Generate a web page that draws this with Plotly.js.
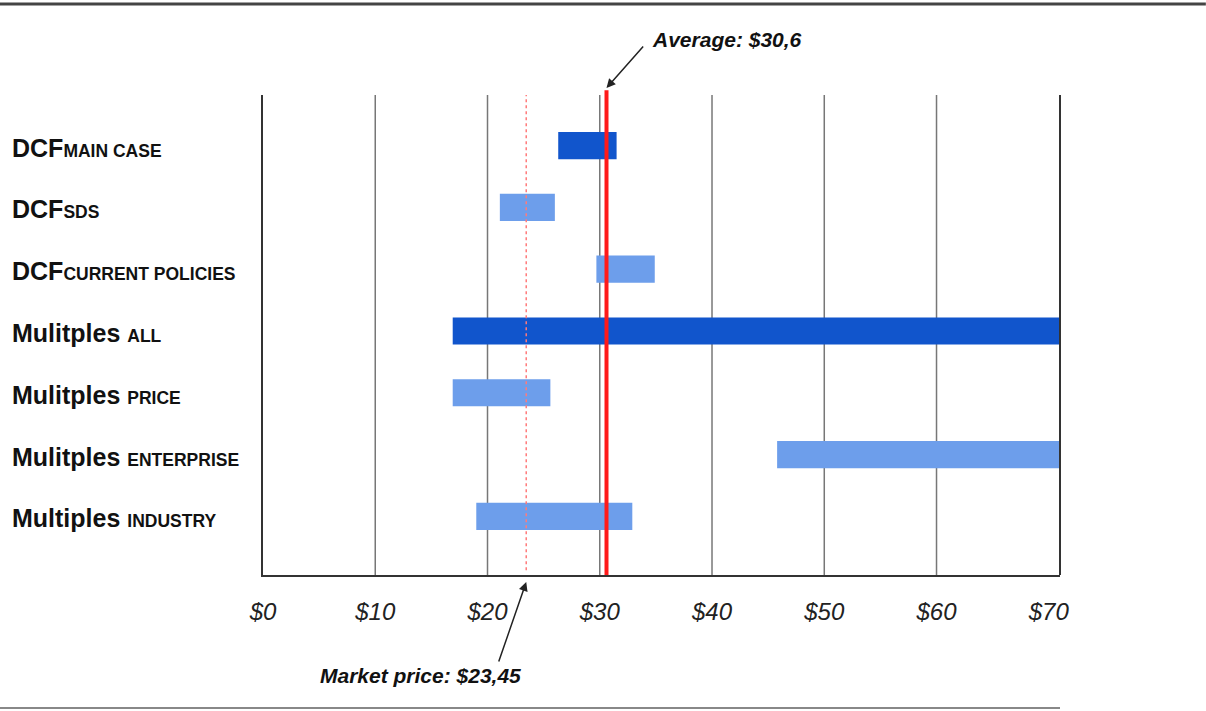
<!DOCTYPE html>
<html>
<head>
<meta charset="utf-8">
<script src="https://cdn.plot.ly/plotly-3.0.1.min.js"></script>
<style>html,body{margin:0;padding:0;background:#fff;}#chart{width:1206px;height:711px;}</style>
</head>
<body>
<div id="chart"></div>
<script>
// ---- data ----
var mainLabels = ["DCF", "DCF", "DCF", "Mulitples ", "Mulitples ", "Mulitples ", "Multiples "];
var subLabels = ["MAIN CASE", "SDS", "CURRENT POLICIES", "ALL", "PRICE", "ENTERPRISE", "INDUSTRY"];
var lowValues = [26.3, 21.1, 29.7, 16.9, 16.9, 45.8, 19.0];
var highValues = [31.5, 26.0, 34.9, 71.0, 25.6, 71.0, 32.9];
var isPrimary = [true, false, false, true, false, false, false];
var averageValue = 30.6;
var averageLabel = "Average: $30,6";
var marketPrice = 23.45;
var marketLabel = "Market price: $23,45";
var tickValues = [0, 10, 20, 30, 40, 50, 60, 70];
var tickLabels = ["$0", "$10", "$20", "$30", "$40", "$50", "$60", "$70"];

var darkBlue = "#1155cc", lightBlue = "#6d9eeb";
var cats = mainLabels.map(function (m, i) { return m + subLabels[i]; });
var widths = highValues.map(function (h, i) { return h - lowValues[i]; });
var colors = isPrimary.map(function (p) { return p ? darkBlue : lightBlue; });

var trace = {
  type: "bar", orientation: "h",
  y: cats, x: widths, base: lowValues,
  width: 0.44,
  marker: { color: colors, line: { width: 0 } },
  hoverinfo: "skip", showlegend: false
};

var labelFont = "Liberation Sans, Arial, sans-serif";
var annotations = cats.map(function (c, i) {
  return {
    xref: "paper", yref: "y", x: -0.3174, y: c, xanchor: "left", yanchor: "middle",
    yshift: -2, showarrow: false,
    text: "<b>" + mainLabels[i] + "</b><span style='font-size:17.5px'><b>" + subLabels[i] + "</b></span>",
    font: { family: labelFont, size: 25, color: "#111" }
  };
});
// average text & arrow
annotations.push({
  xref: "x", yref: "paper", x: 34.5, y: 1.1146, xanchor: "left", yanchor: "middle",
  showarrow: false, text: "<b><i>" + averageLabel + "</i></b>",
  font: { family: labelFont, size: 21, color: "#111" }
});
annotations.push({
  xref: "x", yref: "paper", x: averageValue, y: 1.0146, text: "",
  showarrow: true, arrowhead: 2, arrowsize: 1.2, arrowwidth: 1.5, arrowcolor: "#222",
  ax: 38, ay: -43, standoff: 0
});
// market text & arrow
annotations.push({
  xref: "x", yref: "paper", x: 14.0, y: -0.2104, xanchor: "center", yanchor: "middle",
  showarrow: false, text: "<b><i>" + marketLabel + "</i></b>",
  font: { family: labelFont, size: 21, color: "#111" }
});
annotations.push({
  xref: "x", yref: "paper", x: marketPrice, y: -0.0146, text: "",
  showarrow: true, arrowhead: 2, arrowsize: 1.2, arrowwidth: 1.5, arrowcolor: "#222",
  ax: -28, ay: 81, standoff: 0
});

var shapes = [];
// vertical gridlines at interior ticks (none at 70 in the reference)
tickValues.forEach(function (v) {
  if (v > 0 && v < 70) {
    shapes.push({ type: "line", xref: "x", yref: "paper", x0: v, x1: v, y0: 0, y1: 1,
      line: { color: "#777", width: 1.5 }, layer: "below" });
  }
});
shapes = shapes.concat([
  // right border
  { type: "line", xref: "paper", yref: "paper", x0: 1, x1: 1, y0: 0, y1: 1, line: { color: "#333", width: 2 } },
  // average line
  { type: "line", xref: "x", yref: "paper", x0: averageValue, x1: averageValue, y0: 0, y1: 1.01,
    line: { color: "#ff1a1a", width: 4 }, layer: "above" },
  // market price line
  { type: "line", xref: "x", yref: "paper", x0: marketPrice, x1: marketPrice, y0: 0.01, y1: 1,
    line: { color: "#ff7b7b", width: 1.5, dash: "dot" }, layer: "above" },
  // top rule
  { type: "line", xref: "paper", yref: "paper", x0: -0.33, x1: 1.183, y0: 1.1896, y1: 1.1896,
    line: { color: "#444", width: 3 } },
  // bottom rule
  { type: "line", xref: "paper", yref: "paper", x0: -0.33, x1: 1.0, y0: -0.277, y1: -0.277,
    line: { color: "#888", width: 2 } }
]);

var layout = {
  width: 1206, height: 711,
  margin: { l: 263, r: 146, t: 95, b: 136 },
  paper_bgcolor: "#fff", plot_bgcolor: "#fff",
  xaxis: {
    range: [0, 71], tickvals: tickValues, ticktext: tickLabels,
    showgrid: false, zeroline: false,
    showline: true, linecolor: "#333", linewidth: 2,
    ticks: "outside", ticklen: 14, tickcolor: "rgba(0,0,0,0)",
    tickfont: { family: labelFont, size: 24, color: "#222", style: "italic" },
    fixedrange: true
  },
  yaxis: {
    type: "category", categoryorder: "array", categoryarray: cats,
    range: [6.95, -0.82], showticklabels: false, showgrid: false, zeroline: false,
    showline: true, linecolor: "#333", linewidth: 2, fixedrange: true
  },
  bargap: 0.5,
  shapes: shapes,
  annotations: annotations
};

Plotly.newPlot("chart", [trace], layout, { displayModeBar: false, staticPlot: true });
</script>
</body>
</html>
